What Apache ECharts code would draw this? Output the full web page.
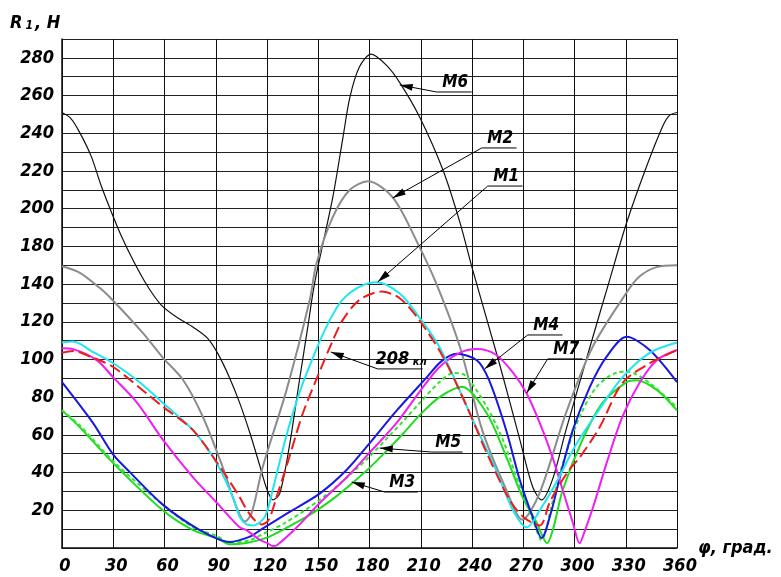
<!DOCTYPE html>
<html>
<head>
<meta charset="utf-8">
<script src="https://cdn.jsdelivr.net/npm/echarts@6/dist/echarts.min.js"></script>
<style>
  html, body { margin: 0; padding: 0; background: #fff; }
  #chart { width: 781px; height: 577px; }
</style>
</head>
<body>
<div id="chart"></div>
<script>
// угол поворота, град. / сила R1 (в единицах сетки графика)
const angleM6 = [0, 5, 10, 17, 23, 29, 35, 42, 50, 58, 67, 77, 85, 91, 98, 104, 110, 116, 120, 123.5, 127.5, 133, 139, 144, 147, 150, 158.5, 164.5, 168.5, 174, 181, 190, 198, 209.4, 223, 233, 240.4, 256, 268, 275.5, 280.7, 287, 295, 309, 320.5, 330.5, 342, 351.5, 355.6, 360];
const valueM6 = [231, 228, 221, 208, 192, 178, 165, 152, 139, 129, 122.5, 117, 111.5, 103.5, 90.5, 77, 61, 43, 31, 25.5, 29, 53.5, 89, 118, 136, 150, 186, 218, 239, 255, 262, 256, 246.5, 228.5, 200.5, 172.5, 147.5, 98, 57.5, 32.5, 25.5, 36, 62.5, 106.5, 142, 172.5, 202, 223.5, 229.5, 231];

const angleM2 = [0, 10.5, 22, 28, 47.4, 59, 71, 82.5, 94, 102, 107, 111, 117.5, 131.5, 145, 149, 158.5, 168.5, 179, 193.6, 208, 219, 233, 246, 260, 269.5, 279.5, 295, 310.5, 330.5, 338, 348, 360];
const valueM2 = [149.5, 146, 138, 133, 114, 101, 89, 69.5, 43, 22, 14, 18.5, 43, 84, 131.5, 151, 175.5, 190, 194.5, 186, 162, 140.5, 106.5, 62.5, 31, 15, 29, 71.5, 106.5, 135.5, 144, 149, 150];

const angleM1 = [0, 6.5, 18, 30, 44, 59, 76.7, 90.6, 100, 104, 108, 112, 118.7, 123.4, 130, 135, 140, 146, 152, 158, 164, 174, 184, 197.7, 209, 221, 237, 240.4, 254, 264, 272, 281, 289.5, 300, 313, 328, 344, 360];
const valueM1 = [109, 109.5, 104, 98, 89, 77, 62.5, 45, 27, 16.5, 12.5, 12, 16.5, 31, 55, 71, 85, 99, 112, 123, 131.5, 138.5, 141, 135, 122.5, 106.5, 75, 68, 41.5, 20, 11, 22, 35, 53.5, 71.5, 90.5, 103.5, 109];

const angle208 = [0, 6.5, 18, 30, 49.5, 59, 76.7, 92.5, 104, 107, 112, 117, 121, 125.6, 133, 141, 151, 158, 164.4, 174, 187, 197.7, 209, 223, 237, 248.6, 262, 270, 279.6, 285.4, 289.5, 297, 303, 314.7, 328, 344, 360];
const value208 = [103.5, 104.5, 101, 96, 82, 75, 62.5, 43, 27, 22, 15.5, 12.5, 15, 27, 48, 71.5, 94, 109, 121, 131.5, 136, 132.5, 121, 101.5, 75, 50.5, 25.5, 16.5, 12, 24, 31, 41.5, 48, 64, 87.5, 98, 105];

const angleM4 = [0, 18, 30, 40, 59, 80.7, 98, 110, 116, 133, 151, 166.7, 180, 196, 213.5, 222, 231, 243, 250, 260, 268, 275.5, 280.7, 286.6, 291, 299, 309, 318.8, 330.5, 344, 360];
const valueM4 = [88, 66.5, 49.5, 40, 23, 9.5, 3.2, 6, 9.5, 19, 29, 41.5, 55.5, 73, 90.5, 99, 103, 99.5, 89, 62.5, 36, 16.5, 5.3, 20, 36, 62.5, 85.5, 101.5, 112, 105, 88];

const angleM7 = [0, 6.5, 20.5, 30, 44, 59, 76.7, 90.6, 104, 108, 116, 120, 123.5, 126, 137.5, 151, 166.7, 180, 196, 209.4, 221, 232.8, 242.7, 254, 264, 272, 279.6, 287, 293, 299, 303, 306, 311, 318.8, 328, 338, 348, 360];
const valueM7 = [106, 105.5, 99.5, 90.5, 77, 57.5, 37.5, 24, 11, 9.5, 4.2, 2.7, 1, 1.6, 11, 24, 37.5, 50.5, 66.5, 83, 96, 103.5, 105.5, 102.5, 93, 82, 66.5, 48.5, 31, 13.5, 2.5, 9, 22, 45, 69.5, 87.5, 99.5, 105];

const angleM3 = [0, 10.5, 30, 59, 76.7, 90.6, 98, 108, 120, 130, 143, 150, 160, 170, 180, 190, 200, 209.4, 221, 234, 248.6, 260, 269.6, 277.8, 284, 287.3, 293.2, 304.7, 316.4, 330.5, 336, 348, 360];
const valueM3 = [73, 64, 45, 20, 9.5, 5.3, 2, 2.7, 5.5, 10, 16.5, 20.5, 27, 34.5, 42.5, 51.5, 61, 70.5, 80, 85.5, 71.5, 48.5, 27, 13.5, 2.5, 9.5, 31, 57.5, 77, 88, 89, 84, 73];

const angleM5 = [0, 10.5, 30, 59, 76.7, 90.6, 98, 110, 120, 130, 143, 150, 160, 170, 180, 190, 200, 209.4, 221, 229, 236, 248.6, 258, 268, 275.5, 280.7, 287, 293.2, 303, 313, 324.6, 331, 344, 360];
const valueM5 = [73, 65, 46, 23, 11, 6.4, 2.7, 4.2, 8.5, 13, 20.5, 25, 32, 40, 48.5, 58, 67.5, 77, 88, 92.8, 91.5, 75, 57.5, 32.5, 15, 4.2, 24, 45, 69.5, 85.5, 93, 93.5, 87.5, 74.5];

// подписи оси Y так, как они напечатаны на рисунке (метки 160 на нём нет)
const yTickLabels = ['20', '40', '60', '80', '100', '120', '140', '180', '200', '220', '240', '260', '280'];

// выноски: [острие, излом, конец полки] в координатах графика
const notes = [
  { text: 'M6', tip: [197.7, 245.6], elbow: [219.3, 241.9], end: [239.8, 241.9] },
  { text: 'M2', tip: [193.6, 185.7], elbow: [245.7, 212.2], end: [266.1, 212.2] },
  { text: 'M1', tip: [184.8, 141.1], elbow: [249.2, 192], end: [269.6, 192] },
  { text: '{a|208}{b| кл}', tip: [157.3, 104], elbow: [184.8, 95], end: [211.1, 95] },
  { text: 'M4', tip: [247.4, 95], elbow: [272.6, 113], end: [293, 113] },
  { text: 'M7', tip: [272, 82.2], elbow: [284.3, 100.3], end: [304.7, 100.3] },
  { text: 'M5', tip: [186, 53], elbow: [216.4, 50.9], end: [234.5, 50.9] },
  { text: 'M3', tip: [169.6, 35], elbow: [188.9, 29.7], end: [208.2, 29.7] },
];

const font = "'Liberation Sans Narrow', 'DejaVu Sans Condensed', 'Roboto', sans-serif";

const pairs = (xs, ys) => xs.map((x, i) => [x, ys[i]]);

const curve = (name, xs, ys, color, width, dash) => ({
  name: name,
  type: 'line',
  data: pairs(xs, ys),
  smooth: 0.3,
  showSymbol: false,
  silent: true,
  lineStyle: { color: color, width: width, type: dash || 'solid' },
});

const labelFont = { fontFamily: font, fontStyle: 'italic', fontWeight: 'bold', fontSize: 18, color: '#000' };

const chart = echarts.init(document.getElementById('chart'), null, { renderer: 'canvas' });

const option = {
  animation: false,
  backgroundColor: '#fff',
  grid: { left: 62, right: 104, top: 39, bottom: 29 },
  xAxis: {
    type: 'value',
    min: 0,
    max: 360,
    interval: 30,
    name: 'φ, град.',
    nameLocation: 'end',
    nameGap: 21,
    nameTextStyle: Object.assign({}, labelFont, { padding: [32, 0, 0, 0] }),
    axisLine: { lineStyle: { color: '#111', width: 1.5 } },
    axisTick: { show: false },
    splitLine: { show: true, lineStyle: { color: '#111', width: 1 } },
    axisLabel: Object.assign({}, labelFont, { margin: 9, padding: [0, 0, 0, 6] }),
  },
  yAxis: {
    type: 'value',
    min: 0,
    max: 270,
    interval: 10,
    axisLine: { show: true, lineStyle: { color: '#111', width: 1.5 } },
    axisTick: { show: false },
    splitLine: { show: true, lineStyle: { color: '#222', width: 1 } },
    axisLabel: Object.assign({}, labelFont, {
      margin: 8,
      formatter: (v) => (v > 0 && v % 20 === 0 ? (yTickLabels[v / 20 - 1] || '') : ''),
    }),
  },
  series: [
    curve('M6', angleM6, valueM6, '#111', 1.2),
    curve('M2', angleM2, valueM2, '#8c8c8c', 2),
    curve('M3', angleM3, valueM3, '#1edc1e', 2),
    curve('M5', angleM5, valueM5, '#2ee62e', 2, [4, 3]),
    curve('M4', angleM4, valueM4, '#1818e0', 2),
    curve('M7', angleM7, valueM7, '#f01ef0', 2),
    curve('M1', angleM1, valueM1, '#1ee6f0', 2),
    curve('208 кл', angle208, value208, '#f01c1c', 2, [12, 5]),
  ],
};
chart.setOption(option);

// выноски со стрелками и надписи
const toPx = (p) => chart.convertToPixel({ gridIndex: 0 }, p);
const graphics = [];
notes.forEach((n) => {
  const tip = toPx(n.tip), elbow = toPx(n.elbow), end = toPx(n.end);
  graphics.push({
    type: 'polyline',
    shape: { points: [tip, elbow, end] },
    style: { stroke: '#000', lineWidth: 1, fill: null },
    z: 100,
  });
  const dx = elbow[0] - tip[0], dy = elbow[1] - tip[1];
  const len = Math.sqrt(dx * dx + dy * dy);
  const ux = dx / len, uy = dy / len;
  const bx = tip[0] + ux * 13, by = tip[1] + uy * 13;
  graphics.push({
    type: 'polygon',
    shape: { points: [tip, [bx - uy * 3.5, by + ux * 3.5], [bx + uy * 3.5, by - ux * 3.5]] },
    style: { fill: '#000' },
    z: 100,
  });
  graphics.push({
    type: 'text',
    x: (elbow[0] + end[0]) / 2 + 1,
    y: end[1] - 1,
    z: 100,
    style: {
      text: n.text,
      fontFamily: font, fontStyle: 'italic', fontWeight: 'bold', fontSize: 17, fill: '#000',
      align: 'center', verticalAlign: 'bottom',
      rich: {
        a: { fontFamily: font, fontStyle: 'italic', fontWeight: 'bold', fontSize: 18, fill: '#000', verticalAlign: 'bottom' },
        b: { fontFamily: font, fontStyle: 'italic', fontWeight: 'bold', fontSize: 11, fill: '#000', verticalAlign: 'bottom' },
      },
    },
  });
});
// подпись оси Y: R1, Н
graphics.push({
  type: 'text',
  left: 10,
  top: 14,
  style: {
    text: '{r|R}{s|1}{r|, Н}',
    rich: {
      r: { fontFamily: font, fontStyle: 'italic', fontWeight: 'bold', fontSize: 18, fill: '#000', verticalAlign: 'bottom' },
      s: { fontFamily: font, fontStyle: 'italic', fontWeight: 'bold', fontSize: 12, fill: '#000', verticalAlign: 'bottom', padding: [0, 2, 0, 3] },
    },
  },
});
chart.setOption({ graphic: graphics });
</script>
</body>
</html>
